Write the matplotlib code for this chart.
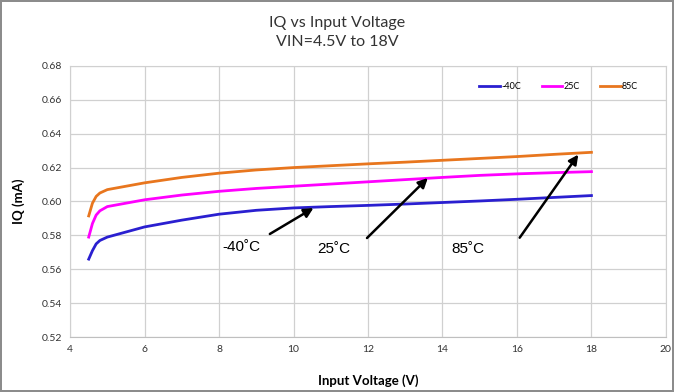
import matplotlib
matplotlib.use("Agg")
import matplotlib.pyplot as plt

# input voltage sweep (V)
vin = [4.5, 4.6, 4.7, 4.8, 5.0, 5.5, 6, 7, 8, 9, 10, 11, 12, 13, 14, 15, 16, 17, 18]

# quiescent current (mA) at each temperature
iq_m40 = [0.566, 0.571, 0.575, 0.577, 0.579, 0.582, 0.585, 0.589, 0.5925, 0.5948, 0.5962,
          0.597, 0.5977, 0.5985, 0.5994, 0.6003, 0.6013, 0.6024, 0.6035]
iq_25 = [0.579, 0.587, 0.592, 0.5945, 0.597, 0.599, 0.601, 0.6038, 0.606, 0.6077, 0.609,
         0.6103, 0.6116, 0.6129, 0.6142, 0.6154, 0.6163, 0.617, 0.6176]
iq_85 = [0.5915, 0.599, 0.603, 0.605, 0.607, 0.609, 0.611, 0.6142, 0.6167, 0.6186, 0.620,
         0.6211, 0.6222, 0.6232, 0.6243, 0.6254, 0.6265, 0.6278, 0.629]

legend_names = ["-40C", "25C", "85C"]
callout_text = ["-40˚C", "25˚C", "85˚C"]

plt.rcParams['font.family'] = ['Lato', 'DejaVu Sans']

fig = plt.figure(figsize=(6.74, 3.92), dpi=100)
fig.patch.set_edgecolor('#8c8c8c')
fig.patch.set_linewidth(1.5)
ax = fig.add_axes([0.104, 0.140, 0.884, 0.692])

ax.plot(vin, iq_m40, color='#2a1fd0', lw=2, label=legend_names[0])
ax.plot(vin, iq_25, color='#ff00ff', lw=2, label=legend_names[1])
ax.plot(vin, iq_85, color='#e8761e', lw=2, label=legend_names[2])

ax.set_xlim(4, 20)
ax.set_ylim(0.52, 0.68)
ax.set_xticks(range(4, 21, 2))
ax.set_yticks([0.52 + 0.02 * i for i in range(9)])
ax.set_yticklabels(["%.2f" % (0.52 + 0.02 * i) for i in range(9)])
ax.tick_params(length=0, labelsize=7.5, colors='#333333', pad=6)
ax.grid(True, color='#d0d0d0', lw=0.9)
ax.set_axisbelow(True)
for s in ax.spines.values():
    s.set_color('#d0d0d0')
ax.spines['bottom'].set_color('#bfbfbf')

ax.set_xlabel("Input Voltage (V)", fontsize=9.5, fontweight='bold', labelpad=14)
ax.set_ylabel("IQ (mA)", fontsize=9.5, fontweight='bold', labelpad=12)
fig.text(0.5, 0.916, "IQ vs Input Voltage\nVIN=4.5V to 18V", ha='center', va='center',
         fontsize=11.5, color='#333333', linespacing=1.45)

ax.legend(loc='upper right', ncol=3, frameon=False, fontsize=6.5, handlelength=2.3,
          handletextpad=0.1, columnspacing=2.3, bbox_to_anchor=(0.967, 0.97))

# arrow callouts for each curve
arrow = dict(arrowstyle='-|>', color='black', lw=1.8, mutation_scale=14)
ax.annotate("", xy=(10.6, 0.597), xytext=(9.3, 0.580), arrowprops=arrow)
ax.annotate("", xy=(13.66, 0.615), xytext=(11.92, 0.5773), arrowprops=arrow)
ax.annotate("", xy=(17.69, 0.629), xytext=(16.03, 0.5773), arrowprops=arrow)
ax.text(8.6, 0.5732, callout_text[0], fontsize=11, family=['Liberation Sans'], va='center', ha='center')
ax.text(11.07, 0.572, callout_text[1], fontsize=11, family=['Liberation Sans'], va='center', ha='center')
ax.text(14.68, 0.572, callout_text[2], fontsize=11, family=['Liberation Sans'], va='center', ha='center')

fig.savefig("out.png", dpi=100)
